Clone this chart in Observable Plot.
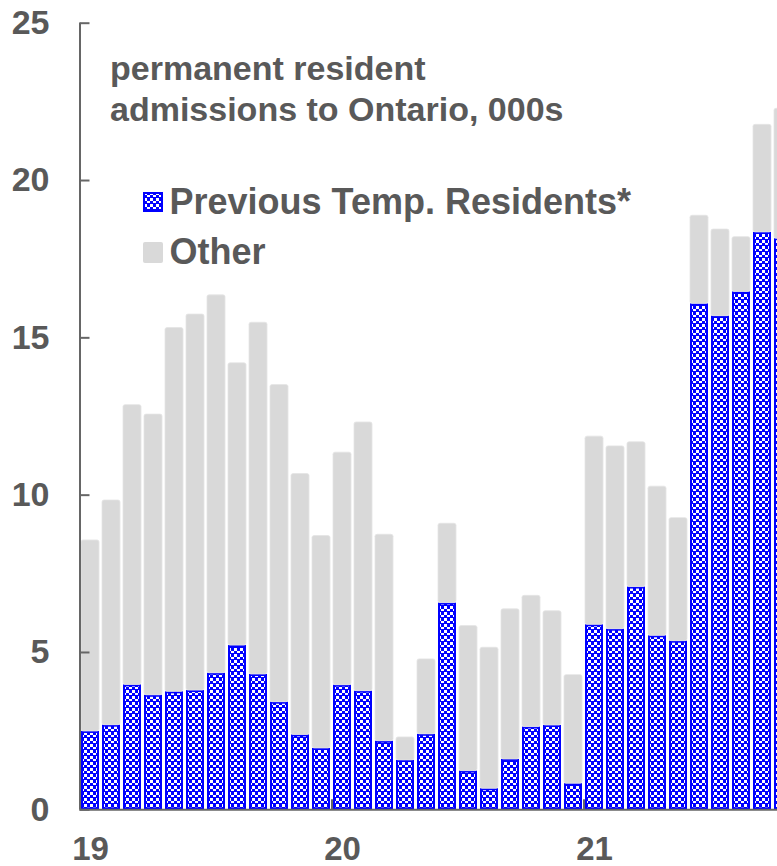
<!DOCTYPE html>
<html>
<head>
<meta charset="utf-8">
<script src="https://cdn.jsdelivr.net/npm/d3@7"></script>
<script src="https://cdn.jsdelivr.net/npm/@observablehq/plot@0.6"></script>
<style>
  html, body { margin: 0; padding: 0; background: #fff; }
  #chart { position: relative; width: 777px; height: 866px; overflow: hidden; }
</style>
</head>
<body>
<div id="chart"></div>
<script>
// ---- data ----
const months = [
  "2019-01","2019-02","2019-03","2019-04","2019-05","2019-06","2019-07","2019-08","2019-09","2019-10","2019-11","2019-12",
  "2020-01","2020-02","2020-03","2020-04","2020-05","2020-06","2020-07","2020-08","2020-09","2020-10","2020-11","2020-12",
  "2021-01","2021-02","2021-03","2021-04","2021-05","2021-06","2021-07","2021-08","2021-09","2021-10"
];
// Previous temporary residents (000s)
const ptr = [
  2.49, 2.69, 3.97, 3.64, 3.75, 3.79, 4.34, 5.22, 4.30, 3.42, 2.38, 1.95,
  3.96, 3.77, 2.18, 1.57, 2.40, 6.57, 1.23, 0.67, 1.60, 2.63, 2.68, 0.83,
  5.88, 5.74, 7.08, 5.53, 5.36, 16.08, 15.69, 16.46, 18.35, 18.15
];
// Total permanent resident admissions (000s)
const total = [
  8.56, 9.83, 12.86, 12.56, 15.31, 15.74, 16.35, 14.19, 15.48, 13.50, 10.67, 8.70,
  11.35, 12.31, 8.74, 2.30, 4.78, 9.09, 5.84, 5.15, 6.37, 6.80, 6.31, 4.28,
  11.86, 11.55, 11.68, 10.27, 9.27, 18.88, 18.44, 18.20, 21.77, 22.28
];
const yTicks = [0, 5, 10, 15, 20, 25];
const yearTicks = ["2019-01", "2020-01", "2021-01"];
const yearLabels = ["19", "20", "21"];
const titleLines = ["permanent resident", "admissions to Ontario, 000s"];
const legendLabels = ["Previous Temp. Residents*", "Other"];

const rows = months.map((m, i) => ({month: m, ptr: ptr[i], total: total[i]}));

const TEXT = "#595959";
const AXIS = "#666666";
const BLUE = "#0000ff";
const GREY = "#d9d9d9";

const chart = Plot.plot({
  width: 777,
  height: 866,
  marginLeft: 79.5,
  marginRight: 0,
  marginTop: 22.7,
  marginBottom: 56.7,
  style: {
    fontFamily: "'Liberation Sans', Arial, Helvetica, sans-serif",
    fontWeight: "bold",
    color: TEXT,
    background: "#fff",
    overflow: "hidden"
  },
  x: {type: "band", domain: months, range: [79.5, 793.5], paddingInner: 0.143, paddingOuter: 0.0715, align: 0.5, axis: null},
  y: {domain: [0, 25], range: [809.3, 22.7], axis: null},
  marks: [
    Plot.barY(rows, {x: "month", y: "ptr", fill: "url(#ptrPattern)", stroke: BLUE, strokeWidth: 2, inset: 1}),
    Plot.barY(rows, {x: "month", y1: "ptr", y2: "total", fill: GREY, stroke: "#e4e4e4", strokeWidth: 0.8, rx: 2}),
    // axes
    Plot.ruleY([0], {stroke: AXIS, strokeWidth: 2}),
    Plot.ruleX([months[0]], {dx: -10.5, stroke: AXIS, strokeWidth: 2}),
    Plot.axisY(yTicks, {tickSize: 10, dx: 10, stroke: AXIS, strokeWidth: 2, tickFormat: () => "", label: null}),
    Plot.axisY(yTicks, {tickSize: 0, tickPadding: 30.5, fontSize: 34, fill: TEXT, label: null}),
    Plot.axisX(yearTicks, {tickSize: 10, dy: -10, dx: -10.5, stroke: AXIS, strokeWidth: 2, tickFormat: () => "", label: null}),
    Plot.axisX(yearTicks, {tickSize: 0, tickPadding: 27, fontSize: 33, fill: TEXT, label: null,
      tickFormat: d => yearLabels[yearTicks.indexOf(d)]}),
    // title
    Plot.text([titleLines.join("\n")], {
      text: d => d, frameAnchor: "top-left", dx: 30, dy: 27.2,
      textAnchor: "start", lineAnchor: "top", lineHeight: 41 / 34, fontSize: 34, fill: TEXT
    }),
    // legend labels
    Plot.text([legendLabels[0]], {
      text: d => d, frameAnchor: "top-left", dx: 89.5, dy: 179,
      textAnchor: "start", lineAnchor: "middle", fontSize: 36, fill: TEXT
    }),
    Plot.text([legendLabels[1]], {
      text: d => d, frameAnchor: "top-left", dx: 89.5, dy: 229,
      textAnchor: "start", lineAnchor: "middle", fontSize: 36, fill: TEXT
    })
  ]
});

// pattern definition for the "previous temporary residents" bars
const svg = d3.select(chart);
const defs = svg.insert("defs", ":first-child");
const pat = defs.append("pattern")
  .attr("id", "ptrPattern")
  .attr("patternUnits", "userSpaceOnUse")
  .attr("width", 6).attr("height", 6);
pat.append("rect").attr("width", 6).attr("height", 6).attr("fill", BLUE);
pat.append("rect").attr("x", 0).attr("y", 0).attr("width", 3).attr("height", 3).attr("fill", "#fff");
pat.append("rect").attr("x", 3).attr("y", 3).attr("width", 3).attr("height", 2).attr("fill", "#fff");

// legend swatches
const sw = svg.append("g").attr("class", "legend-swatches");
sw.append("rect").attr("x", 144).attr("y", 193).attr("width", 18).attr("height", 18)
  .attr("fill", "url(#ptrPattern)").attr("stroke", BLUE).attr("stroke-width", 2);
sw.append("rect").attr("x", 143).attr("y", 242).attr("width", 20).attr("height", 21)
  .attr("fill", GREY).attr("rx", 2);

document.getElementById("chart").appendChild(chart);
</script>
</body>
</html>
